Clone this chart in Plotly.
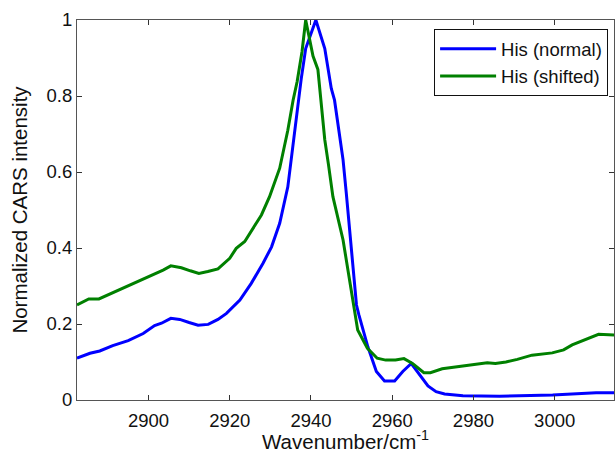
import plotly.graph_objects as go

# Wavenumbers (cm^-1) and normalized intensities
wn_normal = [2882.4, 2885.6, 2888.0, 2891.2, 2895.0, 2898.7, 2901.5, 2903.2, 2905.5, 2907.7,
             2910.0, 2912.2, 2914.7, 2917.1, 2919.2, 2922.5, 2925.3, 2928.2, 2930.3, 2932.3,
             2934.3, 2935.6, 2936.8, 2937.6, 2938.7, 2939.7, 2941.2, 2943.4, 2945.0, 2945.8,
             2947.0, 2947.9, 2948.7, 2949.9, 2951.2, 2951.8, 2952.8, 2954.0, 2956.1, 2958.1,
             2960.6, 2962.6, 2964.7, 2966.7, 2968.8, 2970.8, 2972.9, 2977.4, 2986.4, 2999.5,
             3010.2, 3014.6]
int_normal = [0.110, 0.123, 0.129, 0.143, 0.156, 0.175, 0.196, 0.202, 0.215, 0.212,
              0.204, 0.197, 0.199, 0.212, 0.228, 0.263, 0.307, 0.360, 0.403, 0.465,
              0.561, 0.675, 0.789, 0.845, 0.925, 0.956, 1.000, 0.925, 0.820, 0.789,
              0.697, 0.632, 0.544, 0.395, 0.250, 0.224, 0.184, 0.140, 0.075, 0.050,
              0.050, 0.075, 0.096, 0.066, 0.037, 0.022, 0.016, 0.011, 0.010, 0.013,
              0.019, 0.019]

wn_shifted = [2882.4, 2885.3, 2887.8, 2890.3, 2892.8, 2895.5, 2898.5, 2901.8, 2903.6, 2905.5,
              2908.1, 2910.3, 2912.4, 2914.6, 2917.1, 2920.0, 2921.6, 2923.7, 2925.7, 2927.8,
              2929.8, 2932.3, 2934.3, 2935.6, 2936.6, 2937.8, 2938.7, 2940.5, 2941.7, 2943.4,
              2944.3, 2945.4, 2947.9, 2949.9, 2951.5, 2953.9, 2956.3, 2958.4, 2960.8, 2962.9,
              2965.0, 2967.8, 2969.4, 2972.3, 2976.4, 2980.0, 2983.4, 2985.4, 2988.0, 2990.8,
              2994.4, 2999.4, 3002.2, 3004.3, 3007.5, 3010.8, 3014.6]
int_shifted = [0.250, 0.266, 0.266, 0.278, 0.289, 0.302, 0.318, 0.333, 0.342, 0.353,
               0.348, 0.340, 0.333, 0.338, 0.345, 0.373, 0.399, 0.417, 0.450, 0.487,
               0.535, 0.610, 0.710, 0.789, 0.838, 0.917, 1.000, 0.905, 0.870, 0.685,
               0.620, 0.535, 0.421, 0.289, 0.184, 0.136, 0.110, 0.105, 0.105, 0.109,
               0.096, 0.072, 0.072, 0.082, 0.088, 0.094, 0.098, 0.096, 0.100, 0.107,
               0.118, 0.124, 0.132, 0.145, 0.158, 0.173, 0.171]

x_ticks = [2900, 2920, 2940, 2960, 2980, 3000]
y_ticks = [0, 0.2, 0.4, 0.6, 0.8, 1]
y_tick_labels = ["0", "0.2", "0.4", "0.6", "0.8", "1"]

FONT = "Liberation Sans, Arial, Helvetica, sans-serif"
TICK_SIZE = 18.5
TITLE_SIZE = 20.5

fig = go.Figure()
fig.add_trace(go.Scatter(x=wn_normal, y=int_normal, mode="lines", name="His (normal)",
                         line=dict(color="#0000FF", width=3)))
fig.add_trace(go.Scatter(x=wn_shifted, y=int_shifted, mode="lines", name="His (shifted)",
                         line=dict(color="#008000", width=3)))

axis_common = dict(showline=True, linecolor="#555555", linewidth=1, mirror="ticks",
                   ticks="inside", ticklen=5, tickcolor="#333333", showgrid=False,
                   zeroline=False, tickfont=dict(family=FONT, size=TICK_SIZE, color="#111111"))

fig.update_xaxes(range=[2882.4, 3014.6], tickvals=x_ticks, ticklabelstandoff=4,
                 title=dict(text="Wavenumber/cm<sup>-1</sup>",
                            font=dict(family=FONT, size=TITLE_SIZE, color="#111111"),
                            standoff=9),
                 **axis_common)
fig.update_yaxes(range=[0, 1], tickvals=y_ticks, ticktext=y_tick_labels,
                 title=dict(text="Normalized CARS intensity",
                            font=dict(family=FONT, size=TITLE_SIZE, color="#111111"),
                            standoff=13),
                 **axis_common)

fig.update_layout(
    width=616, height=453,
    margin=dict(l=77, r=2, t=20, b=53, autoexpand=False),
    paper_bgcolor="white", plot_bgcolor="white",
    font=dict(family=FONT, size=TICK_SIZE, color="#111111"),
    showlegend=True,
    legend=dict(x=0.989, y=0.9755, xanchor="right", yanchor="top",
                bgcolor="white", bordercolor="#111111", borderwidth=1,
                font=dict(family=FONT, size=TICK_SIZE, color="#111111"),
                tracegroupgap=0, itemwidth=56),
)

fig.write_html("out.html")
